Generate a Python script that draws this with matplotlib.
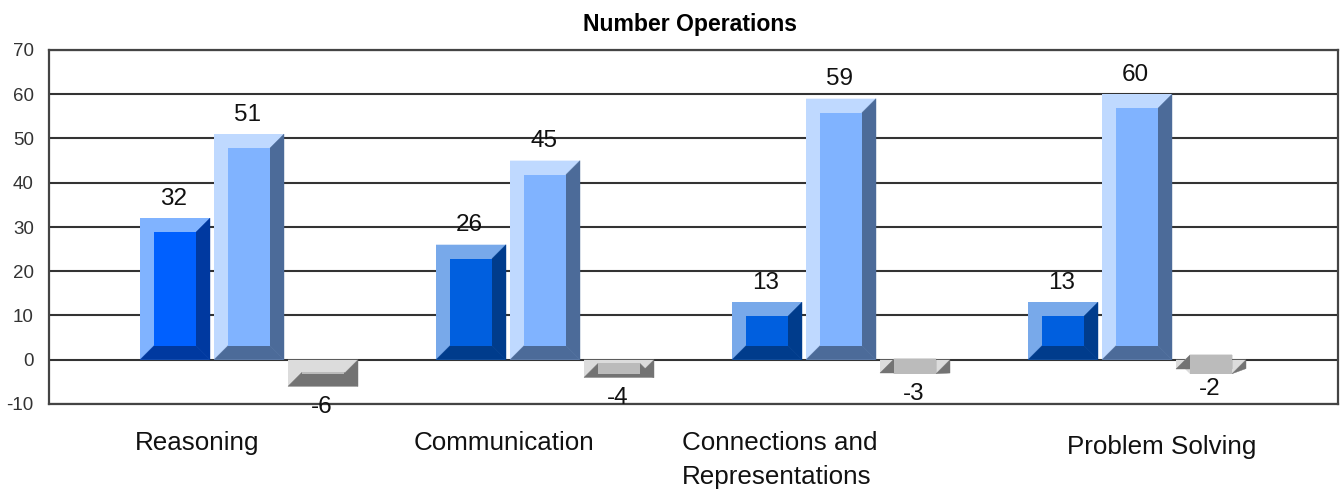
import matplotlib.pyplot as plt

plt.rcParams['font.family'] = ['Liberation Sans', 'DejaVu Sans']
plt.rcParams['axes.unicode_minus'] = False

W, H = 1343, 494
title = 'Number Operations'
categories = ['Reasoning', 'Communication', 'Connections and\nRepresentations', 'Problem Solving']
series_a = [32, 26, 13, 13]
series_b = [51, 45, 59, 60]
series_c = [-6, -4, -3, -2]
y_ticks = [-10, 0, 10, 20, 30, 40, 50, 60, 70]

# front, light edge, dark edge
blue_first = ('#0060ff', '#80b3ff', '#0039a0')
blue_rest = ('#005fdf', '#78a9ea', '#003c8c')
light_blue = ('#80b3ff', '#bfd9ff', '#4c6b99')
grey = ('#bbbbbb', '#dcdcdc', '#737373')

L, R, T, B = 49, 1338, 50, 404
GROUP_PX = 296
X0_PX = 249   # pixel centre of the first group
BEVEL_PX = 14
PX_PER_UNIT = (B - T) / 80

fig = plt.figure(figsize=(W / 100, H / 100), dpi=100)
ax = fig.add_axes([L / W, 1 - B / H, (R - L) / W, (B - T) / H])
ax.set_xlim((L - X0_PX) / GROUP_PX, (R - X0_PX) / GROUP_PX)
ax.set_ylim(-10, 70)
ax.set_yticks(y_ticks)
ax.set_xticks([])
ax.grid(axis='y', color='#333333', lw=1.5, zorder=1)
ax.set_axisbelow(True)
ax.tick_params(axis='y', length=0, pad=11, labelsize=13.5, labelcolor='#333333')
for s in ax.spines.values():
    s.set_color('#444444')
    s.set_linewidth(1.6)

bw = 70 / GROUP_PX
step = 74 / GROUP_PX
bx = BEVEL_PX / GROUP_PX
by = BEVEL_PX / PX_PER_UNIT


def bevel_bar(x, v, colors):
    front, light, dark = colors
    x0, x1 = x - bw / 2, x + bw / 2
    yt, yb = (v, 0) if v >= 0 else (0, v)
    flat = yt - yb < by  # very short bars: bevels cross over
    ax.bar(x, v, width=bw, color=light, zorder=3, lw=0)
    ax.fill([x0, x1, x1 - bx, x0 + bx], [yt, yt, yt - by, yt - by], color=light, lw=0, zorder=4)
    ax.fill([x0, x0 + bx, x0 + bx, x0], [yt, yt - by, yb + by, yb], color=light, lw=0, zorder=4)
    bottom_r = x1 - bx if flat else x1
    ax.fill([x0, bottom_r, x1 - bx, x0 + bx], [yb, yb, yb + by, yb + by],
            fc=dark, ec=dark, lw=0.3, zorder=5)
    inner = min(yb + by, yt - by)
    ax.fill([x1, x1 - bx, x1 - bx, x1], [yt, yt - by, inner, yb],
            fc=dark, ec=dark, lw=0.3, zorder=5)
    ax.fill([x0 + bx, x1 - bx, x1 - bx, x0 + bx], [yt - by, yt - by, yb + by, yb + by],
            color=front, lw=0, zorder=6)
    off = 14 if v >= 0 else -15
    ax.annotate(str(v), (x, v), xytext=(-1, off), textcoords='offset points',
                ha='center', va='center', fontsize=17.5,
                color='#111111', zorder=7, annotation_clip=False)


for i in range(len(categories)):
    bevel_bar(i - step, series_a[i], blue_first if i == 0 else blue_rest)
    bevel_bar(i, series_b[i], light_blue)
    bevel_bar(i + step, series_c[i], grey)

fig.text(690 / W, 1 - 24 / H, title, ha='center', va='center', fontsize=16.6, fontweight='bold', color='black')

label_px = [(135, 443), (414, 443), (682, 460), (1067, 447)]
for lab, (px, py) in zip(categories, label_px):
    fig.text(px / W, 1 - py / H, lab, ha='left', va='center', fontsize=18.7, color='#111111', linespacing=1.55)

fig.savefig('out.png', dpi=100)
